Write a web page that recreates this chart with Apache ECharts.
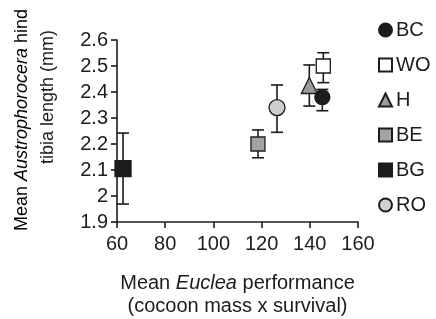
<!DOCTYPE html>
<html>
<head>
<meta charset="utf-8">
<script src="https://cdn.jsdelivr.net/npm/echarts@6/dist/echarts.min.js"></script>
<style>
  html, body { margin: 0; padding: 0; background: #fff; }
  #main { width: 436px; height: 319px; }
</style>
</head>
<body>
<div id="main"></div>
<script>
// groups, means and error bars
var groups  = ['BC', 'WO', 'H', 'BE', 'BG', 'RO'];
var perf    = [145.2, 145.6, 139.8, 118.5, 62.5, 126.4];   // x: Euclea performance
var tibia   = [2.38, 2.50, 2.425, 2.20, 2.105, 2.34];      // y: hind tibia length
var errLow  = [2.328, 2.436, 2.346, 2.147, 1.969, 2.245];
var errHigh = [2.41, 2.551, 2.504, 2.254, 2.242, 2.427];
var yTicks  = [1.9, 2, 2.1, 2.2, 2.3, 2.4, 2.5, 2.6];

var symbols = ['circle', 'rect', 'triangle', 'rect', 'rect', 'circle'];
var fills   = ['#1c1c1c', '#ffffff', '#9a9a9a', '#a3a3a3', '#1c1c1c', '#cfcfcf'];
var sizes   = [15, 14, 16, 14, 16, 16];

function drawBars(){
    var myChart = echarts.init(document.getElementById('main'));
    var font = 'Liberation Sans, Arial, sans-serif';

    var series = [];
    // error bars first so the markers sit on top
    series.push({
        type: 'custom',
        silent: true,
        data: groups.map(function(g, i){ return [perf[i], errLow[i], errHigh[i]]; }),
        renderItem: function(params, api){
            var lo = api.coord([api.value(0), api.value(1)]);
            var hi = api.coord([api.value(0), api.value(2)]);
            var w = 6;
            var st = { stroke: '#1c1c1c', lineWidth: 1.6 };
            return {
                type: 'group',
                children: [
                    { type: 'line', shape: { x1: lo[0], y1: lo[1], x2: hi[0], y2: hi[1] }, style: st },
                    { type: 'line', shape: { x1: lo[0] - w, y1: lo[1], x2: lo[0] + w, y2: lo[1] }, style: st },
                    { type: 'line', shape: { x1: hi[0] - w, y1: hi[1], x2: hi[0] + w, y2: hi[1] }, style: st }
                ]
            };
        },
        z: 1
    });
    groups.forEach(function(g, i){
        series.push({
            name: g,
            type: 'scatter',
            symbol: symbols[i],
            symbolSize: sizes[i],
            data: [[perf[i], tibia[i]]],
            itemStyle: { color: fills[i], borderColor: '#1c1c1c', borderWidth: 1.3, opacity: 1 },
            z: 2
        });
    });

    var xRich = {
        n: { fontSize: 20, color: '#1c1c1c', fontFamily: font, lineHeight: 23 },
        i: { fontSize: 20, color: '#1c1c1c', fontFamily: font, lineHeight: 23, fontStyle: 'italic' }
    };
    var yRich = {
        n: { fontSize: 18, color: '#1c1c1c', fontFamily: font },
        i: { fontSize: 18, color: '#1c1c1c', fontFamily: font, fontStyle: 'italic' }
    };

    var option = {
        animation: false,
        textStyle: { fontFamily: font },
        grid: { left: 117, right: 78, top: 40, bottom: 97, outerBoundsMode: 'none', containLabel: false },
        // y axis title, two rotated lines
        graphic: [
            {
                type: 'text', x: 22, y: 120, rotation: Math.PI / 2,
                style: { text: '{n|Mean }{i|Austrophorocera}{n| hind}', rich: yRich, align: 'center', verticalAlign: 'middle' }
            },
            {
                type: 'text', x: 48, y: 97, rotation: Math.PI / 2,
                style: { text: 'tibia length (mm)', fontSize: 18, fontFamily: font, fill: '#1c1c1c', align: 'center', verticalAlign: 'middle' }
            }
        ],
        legend: {
            orient: 'vertical',
            left: 378,
            top: 20,
            padding: 0,
            itemGap: 15,
            itemWidth: 13,
            itemHeight: 13,
            data: groups.map(function(g, i){ return { name: g, icon: symbols[i] }; }),
            textStyle: { fontSize: 20, lineHeight: 20, color: '#1c1c1c', fontFamily: font, padding: [0, 0, 0, -1] }
        },
        xAxis: {
            type: 'value',
            min: 60, max: 160, interval: 20,
            splitLine: { show: false },
            axisLine: { lineStyle: { color: '#1c1c1c', width: 1.6 } },
            axisTick: { length: 6, lineStyle: { color: '#1c1c1c', width: 1.6 } },
            axisLabel: { fontSize: 20, color: '#1c1c1c', margin: 12 },
            name: '{n|Mean }{i|Euclea}{n| performance}\n{n|(cocoon mass x survival)}',
            nameLocation: 'middle',
            nameGap: 50,
            nameTextStyle: { fontSize: 20, lineHeight: 23, align: 'center', color: '#1c1c1c', rich: xRich }
        },
        yAxis: {
            type: 'value',
            min: 1.9, max: 2.6, interval: 0.1,
            splitLine: { show: false },
            axisLine: { show: true, lineStyle: { color: '#1c1c1c', width: 1.6 } },
            axisTick: { show: true, length: 6, lineStyle: { color: '#1c1c1c', width: 1.6 } },
            axisLabel: {
                fontSize: 20, color: '#1c1c1c', margin: 9,
                formatter: function(v){
                    var r = Math.round(v * 10) / 10;
                    return yTicks.indexOf(r) >= 0 ? String(r) : '';
                }
            }
        },
        series: series
    };

    myChart.setOption(option);
}

drawBars();
</script>
</body>
</html>
